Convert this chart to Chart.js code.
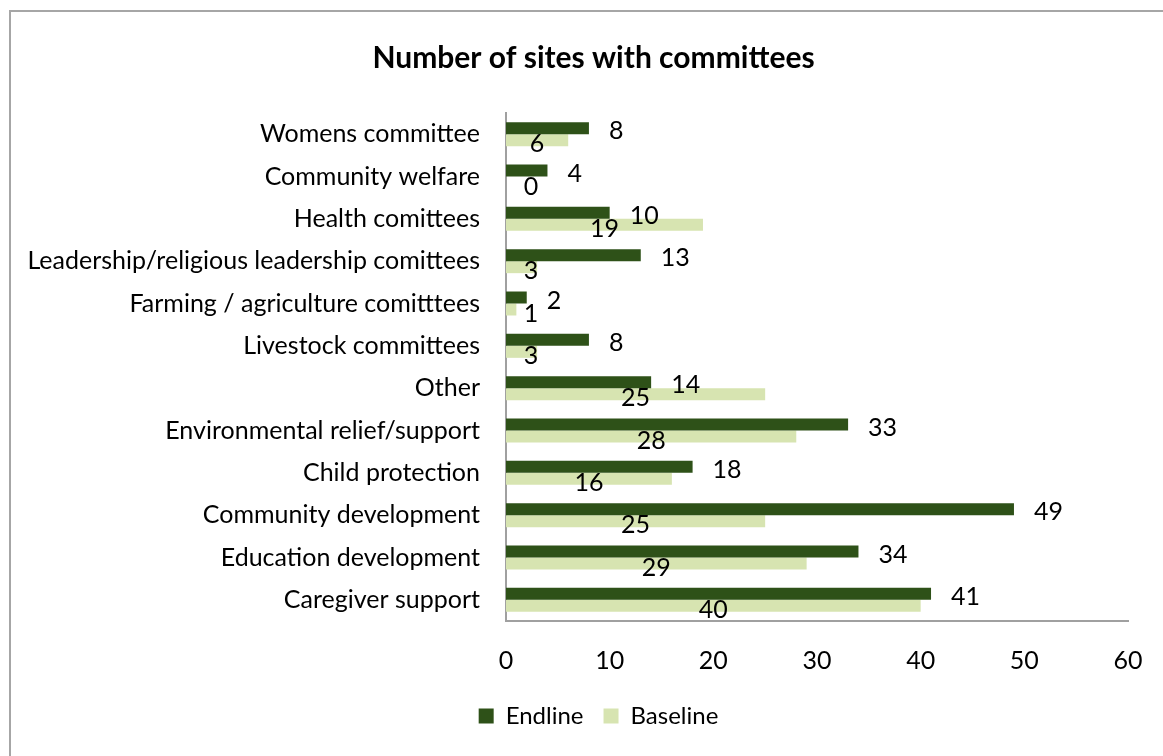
<!DOCTYPE html>
<html lang="en">
<head>
<meta charset="UTF-8">
<title>Number of sites with committees</title>
<script src="https://cdn.jsdelivr.net/npm/chart.js"></script>
<style>
    body {
        margin: 0;
        background: #ffffff;
    }
    .frame {
        position: absolute;
        left: 9px;
        top: 10px;
        width: 1200px;
        height: 800px;
        border-left: 2px solid #a6a6a6;
        border-top: 2px solid #a6a6a6;
    }
    .chart-box {
        position: absolute;
        left: 0;
        top: 0;
        width: 1163px;
        height: 756px;
    }
</style>
</head>
<body>
<div class="frame"></div>
<div class="chart-box">
    <canvas id="sitesChart" width="1163" height="756"></canvas>
</div>
<script>
// committee types, listed top to bottom
const categories = [
    'Womens committee',
    'Community welfare',
    'Health comittees',
    'Leadership/religious leadership comittees',
    'Farming / agriculture comitttees',
    'Livestock committees',
    'Other',
    'Environmental relief/support',
    'Child protection',
    'Community development',
    'Education development',
    'Caregiver support'
];
const endline = [8, 4, 10, 13, 2, 8, 14, 33, 18, 49, 34, 41];
const baseline = [6, 0, 19, 3, 1, 3, 25, 28, 16, 25, 29, 40];
const xMin = 0;
const xMax = 60;
const xStep = 10;

const FONT = 'Lato, "Open Sans", sans-serif';
const LABEL_SIZE = 25;

// value labels: endline just past the bar end, baseline centred in its bar
const valueLabels = {
    id: 'valueLabels',
    afterDatasetsDraw(chart) {
        const ctx = chart.ctx;
        const xScale = chart.scales.x;
        ctx.save();
        ctx.font = LABEL_SIZE + 'px ' + FONT;
        ctx.fillStyle = '#000000';
        ctx.textBaseline = 'middle';
        chart.data.datasets.forEach((ds, di) => {
            const meta = chart.getDatasetMeta(di);
            meta.data.forEach((bar, i) => {
                const v = ds.data[i];
                if (di === 0) {
                    ctx.textAlign = 'left';
                    ctx.fillText(String(v), bar.x + 20, bar.y + 3);
                } else {
                    const cx = Math.max(xScale.getPixelForValue(v / 2), xScale.getPixelForValue(0) + 25);
                    ctx.textAlign = 'center';
                    ctx.fillText(String(v), cx, bar.y + 4);
                }
            });
        });
        ctx.restore();
    }
};

// the long category labels push the plot right; nudge title and legend
// so they sit over the middle of the whole figure
const nudgeBlocks = {
    id: 'nudgeBlocks',
    afterLayout(chart) {
        chart.titleBlock.left += 12;
        chart.titleBlock.right += 12;
        chart.legend.left += 17;
        chart.legend.right += 17;
    }
};

new Chart(document.getElementById('sitesChart'), {
    type: 'bar',
    data: {
        labels: categories,
        datasets: [
            {
                label: 'Endline',
                data: endline,
                backgroundColor: '#2e5118',
                categoryPercentage: 0.567,
                barPercentage: 1.0
            },
            {
                label: 'Baseline',
                data: baseline,
                backgroundColor: '#d7e4b1',
                categoryPercentage: 0.567,
                barPercentage: 1.0
            }
        ]
    },
    options: {
        indexAxis: 'y',
        responsive: false,
        animation: false,
        layout: {
            padding: { left: 0, right: 0, top: 0, bottom: 18 }
        },
        scales: {
            x: {
                min: xMin,
                max: xMax,
                grid: { display: false, drawTicks: false },
                border: { display: true, color: '#a0a0a0', width: 2 },
                ticks: {
                    stepSize: xStep,
                    padding: 25,
                    color: '#000000',
                    font: { family: FONT, size: LABEL_SIZE }
                },
                afterFit(scale) {
                    scale.height = 63;
                    scale.paddingRight = 35;
                }
            },
            y: {
                grid: { display: false, drawTicks: false },
                border: { display: true, color: '#a0a0a0', width: 2 },
                ticks: {
                    padding: 26,
                    color: '#000000',
                    autoSkip: false,
                    font: { family: FONT, size: LABEL_SIZE }
                },
                afterFit(scale) {
                    scale.width = 506;
                }
            }
        },
        plugins: {
            title: {
                display: true,
                text: 'Number of sites with committees',
                color: '#000000',
                font: { family: FONT, size: 30, weight: 'bold', lineHeight: 1.2 },
                padding: { top: 40, bottom: 37 }
            },
            legend: {
                position: 'bottom',
                labels: {
                    color: '#000000',
                    boxWidth: 15,
                    boxHeight: 15,
                    padding: 20,
                    font: { family: FONT, size: 24 }
                }
            },
            tooltip: { enabled: false }
        }
    },
    plugins: [valueLabels, nudgeBlocks]
});
</script>
</body>
</html>
